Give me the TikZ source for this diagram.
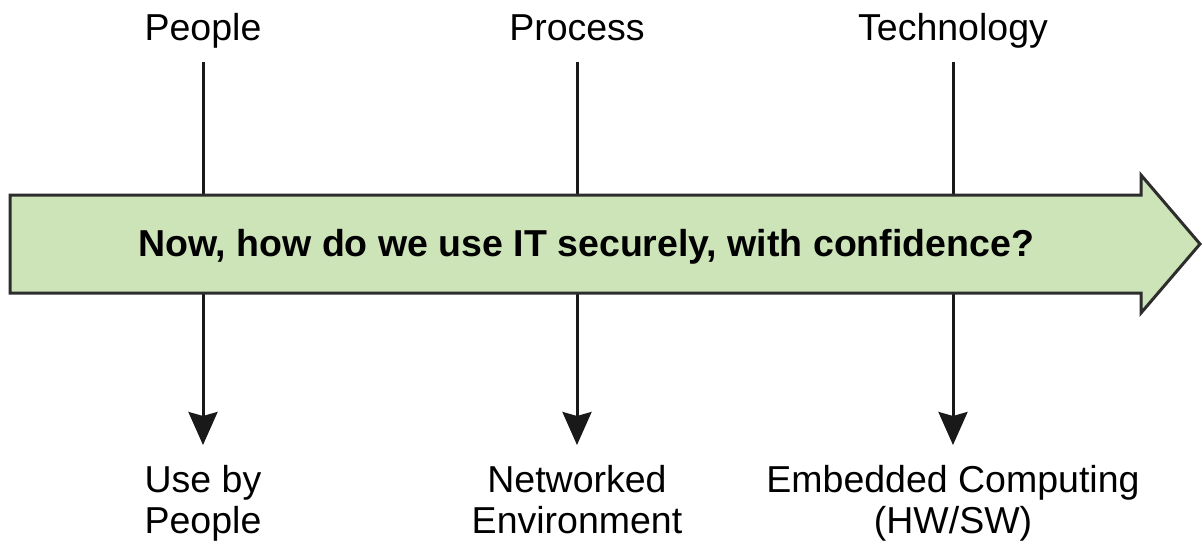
\documentclass[tikz,border=0pt]{standalone}
\usepackage{fontspec}
\setmainfont{Liberation Sans}
\usetikzlibrary{arrows.meta}
\definecolor{arrowgreen}{RGB}{205,228,185}
\definecolor{darkline}{RGB}{45,45,45}

\begin{document}
\begin{tikzpicture}[x=1pt,y=-1pt,
		toplabel/.style={anchor=base, inner sep=0pt, font=\fontsize{37.5}{41}\selectfont, text height=28pt, text depth=9pt},
		bottomlabel/.style={anchor=north, inner sep=0pt, align=center, font=\fontsize{37.5}{41}\selectfont},
		flow/.style={line width=3pt, color=black!90, -{Stealth[length=33pt, width=29pt, inset=4pt]}, shorten <=13pt, shorten >=20pt}]
		\useasboundingbox (0,0) rectangle (1203,544);

		\node[toplabel] (people) at (203,40) {People};
		\node[toplabel] (process) at (577,40) {Process};
		\node[toplabel] (technology) at (953,40) {Technology};

		\node[bottomlabel] (usebypeople) at (203,465) {Use by\\People};
		\node[bottomlabel] (networked) at (577,465) {Networked\\Environment};
		\node[bottomlabel] (embedded) at (953,465) {Embedded Computing\\(HW/SW)};

		\draw[flow] (people) -- (usebypeople);
		\draw[flow] (process) -- (networked);
		\draw[flow] (technology) -- (embedded);

		% the big arrow goes over the lines
		\draw[line width=3pt, color=darkline, fill=arrowgreen] (10,195) -- (1141,195) -- (1141,175) -- (1200,244) -- (1141,313) -- (1141,293) -- (10,293) -- cycle;
		\node[anchor=base, inner sep=0pt, font=\fontsize{37.5}{41}\selectfont\bfseries] (question) at (586,256) {Now, how do we use IT securely, with confidence?};

	\end{tikzpicture}
\end{document}
